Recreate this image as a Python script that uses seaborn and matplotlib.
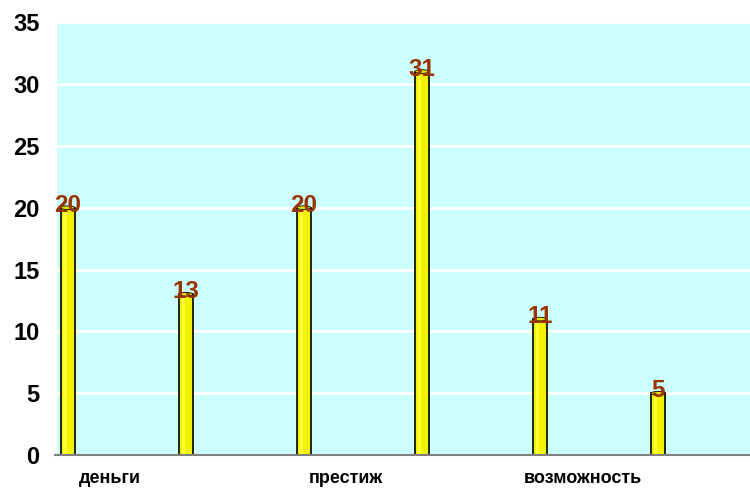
import matplotlib
matplotlib.use('Agg')
import matplotlib.pyplot as plt
import seaborn as sns
import pandas as pd
import numpy as np

# data
bar_ids = ['b1', 'b2', 'b3', 'b4', 'b5', 'b6']
values = [20, 13, 20, 31, 11, 5]
group_labels = ['деньги', 'престиж', 'возможность']
group_pos = [0, 2, 4]
yticks = [0, 5, 10, 15, 20, 25, 30, 35]

df = pd.DataFrame({'bar': bar_ids, 'value': values})

sns.set_style('white')
plt.rcParams['font.family'] = ['Liberation Sans', 'DejaVu Sans']
plt.rcParams['text.color'] = 'black'
plt.rcParams['xtick.color'] = 'black'
plt.rcParams['ytick.color'] = 'black'

fig = plt.figure(figsize=(7.5, 4.9), dpi=100)
ax = fig.add_axes([0.073, 0.071, 0.927, 0.884])
ax.set_facecolor('#CCFFFF')

sns.barplot(data=df, x='bar', y='value', order=bar_ids, color='#F2F200',
            width=0.12, edgecolor='black', linewidth=1.2, saturation=1, ax=ax)

# light stripe to hint at the cylinder shading
for p in ax.patches:
    x0, w, h = p.get_x(), p.get_width(), p.get_height()
    ax.add_patch(plt.Rectangle((x0 + w * 0.2, 0), w * 0.25, h, color='#FFFF33', lw=0, zorder=p.get_zorder() + 0.1))
    ax.add_patch(matplotlib.patches.Ellipse((x0 + w / 2, h), w, 0.3, facecolor='#E0E000',
                                            edgecolor='black', lw=0.6, zorder=p.get_zorder() + 0.2))

for i, v in enumerate(values):
    ax.text(i, v + 0.2, str(v), ha='center', va='center', fontsize=17.5, fontweight='bold',
            color='#993300', zorder=5)

ax.set_ylim(0, 35)
ax.set_xlim(-0.11, 5.78)
ax.set_yticks(yticks)
ax.set_yticklabels([str(t) for t in yticks], fontsize=17, fontweight='bold')
ax.yaxis.grid(True, color='white', lw=2)
ax.set_axisbelow(True)

ax.set_xticks([p + 0.36 for p in group_pos])
ax.set_xticklabels(group_labels, fontsize=13, fontweight='bold')
ax.tick_params(axis='x', length=0, pad=11)
ax.tick_params(axis='y', length=0, pad=11)
ax.set_xlabel('')
ax.set_ylabel('')

for s in ['top', 'right']:
    ax.spines[s].set_visible(False)
ax.spines['left'].set_color('white')
ax.spines['left'].set_linewidth(3)
ax.spines['bottom'].set_color('#808080')
ax.spines['bottom'].set_linewidth(1.5)

fig.savefig('out.png', dpi=100)
